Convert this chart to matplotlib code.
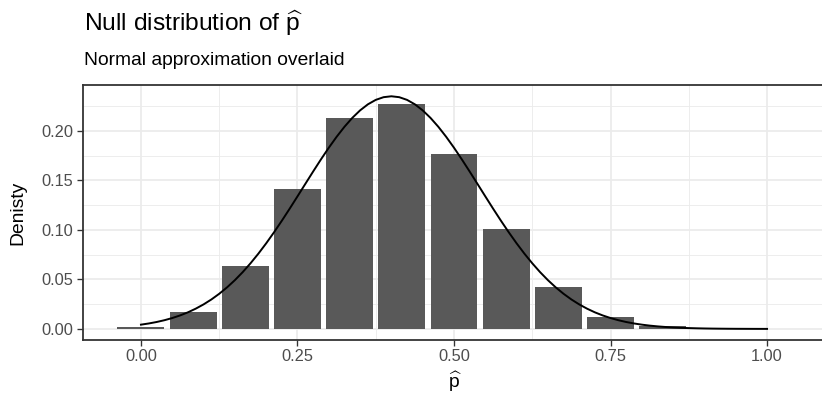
import numpy as np
import matplotlib
matplotlib.use("Agg")
import matplotlib.pyplot as plt

plt.rcParams['font.family'] = ['Liberation Sans', 'DejaVu Sans']
plt.rcParams['mathtext.fontset'] = 'custom'
plt.rcParams['mathtext.rm'] = 'Liberation Sans'
plt.rcParams['mathtext.it'] = 'Liberation Sans:italic'

# bars: sample proportion p-hat (k / 12) and its probability
phat = [0/12, 1/12, 2/12, 3/12, 4/12, 5/12, 6/12, 7/12, 8/12, 9/12, 10/12, 11/12, 12/12]
density = [0.0022, 0.0174, 0.0639, 0.1419, 0.2128, 0.2270, 0.1766,
           0.1009, 0.0420, 0.0125, 0.0025, 0.0003, 0.00002]

# normal approximation curve, read at steps of 0.0125 from 0 to 1
curve_x = np.linspace(0, 1, 81)
curve_y = [0.00431, 0.00551, 0.00699, 0.00880, 0.01100, 0.01363, 0.01676, 0.02047,
           0.02478, 0.02977, 0.03550, 0.04198, 0.04928, 0.05739, 0.06632, 0.07603,
           0.08649, 0.09762, 0.10932, 0.12149, 0.13396, 0.14654, 0.15907, 0.17133,
           0.18310, 0.19414, 0.20426, 0.21323, 0.22085, 0.22698, 0.23146, 0.23419,
           0.23510,
           0.23419, 0.23146, 0.22698, 0.22085, 0.21323, 0.20426, 0.19414, 0.18310,
           0.17133, 0.15907, 0.14654, 0.13396, 0.12149, 0.10932, 0.09762, 0.08649,
           0.07603, 0.06632, 0.05739, 0.04928, 0.04198, 0.03550, 0.02977, 0.02478,
           0.02047, 0.01676, 0.01363, 0.01100, 0.00880, 0.00699, 0.00551, 0.00431,
           0.00334, 0.00257, 0.00196, 0.00149, 0.00112, 0.00084, 0.00062, 0.00045,
           0.00033, 0.00024, 0.00017, 0.00012, 0.00009, 0.00006, 0.00004, 0.00003]

x_ticks = [0.0, 0.25, 0.5, 0.75, 1.0]
y_ticks = [0.0, 0.05, 0.10, 0.15, 0.20]

DPI = 108
W, H = 822, 401
fig = plt.figure(figsize=(W / DPI, H / DPI), dpi=DPI)
left, right, top, bottom = 83.3, 824.7, 85, 340
ax = fig.add_axes([left / W, 1 - bottom / H, (right - left) / W, (bottom - top) / H])

ax.bar(phat, density, width=0.9 / 12, color='#595959', zorder=2)
ax.plot(curve_x, curve_y, color='black', lw=1.3, zorder=3)

ax.set_xlim(-0.0921, 1.0921)
ax.set_ylim(-0.0112, 0.2465)
ax.set_xticks(x_ticks)
ax.set_xticklabels(['%.2f' % v for v in x_ticks])
ax.set_yticks(y_ticks)
ax.set_yticklabels(['%.2f' % v for v in y_ticks])
ax.set_xticks([0.125, 0.375, 0.625, 0.875], minor=True)
ax.set_yticks([0.025, 0.075, 0.125, 0.175, 0.225], minor=True)

ax.grid(which='major', color='#EBEBEB', lw=1.2, zorder=0)
ax.grid(which='minor', color='#EBEBEB', lw=0.6, zorder=0)
ax.set_axisbelow(True)
ax.tick_params(which='minor', length=0)
ax.tick_params(which='major', length=3.7, width=0.9, color='#333333',
               labelcolor='#4D4D4D', labelsize=10.9)
ax.tick_params(axis='x', pad=2.5)
ax.tick_params(axis='y', pad=3)
for s in ax.spines.values():
    s.set_color('#333333')
    s.set_linewidth(1.2)

fig.text(455 / W, 1 - 394 / H, r'$\widehat{\mathrm{p}}$', fontsize=12.8,
         ha='center', va='bottom')
fig.text(17.5 / W, 1 - 212.5 / H, 'Denisty', fontsize=12.8, rotation=90,
         ha='center', va='center')

fig.text(84 / W, 1 - 30.5 / H, r'Null distribution of $\widehat{\mathrm{p}}$',
         fontsize=16.3, va='baseline', ha='left')
fig.text(84 / W, 1 - 65 / H, 'Normal approximation overlaid',
         fontsize=12.8, va='baseline', ha='left')

fig.savefig('out.png', dpi=DPI)
